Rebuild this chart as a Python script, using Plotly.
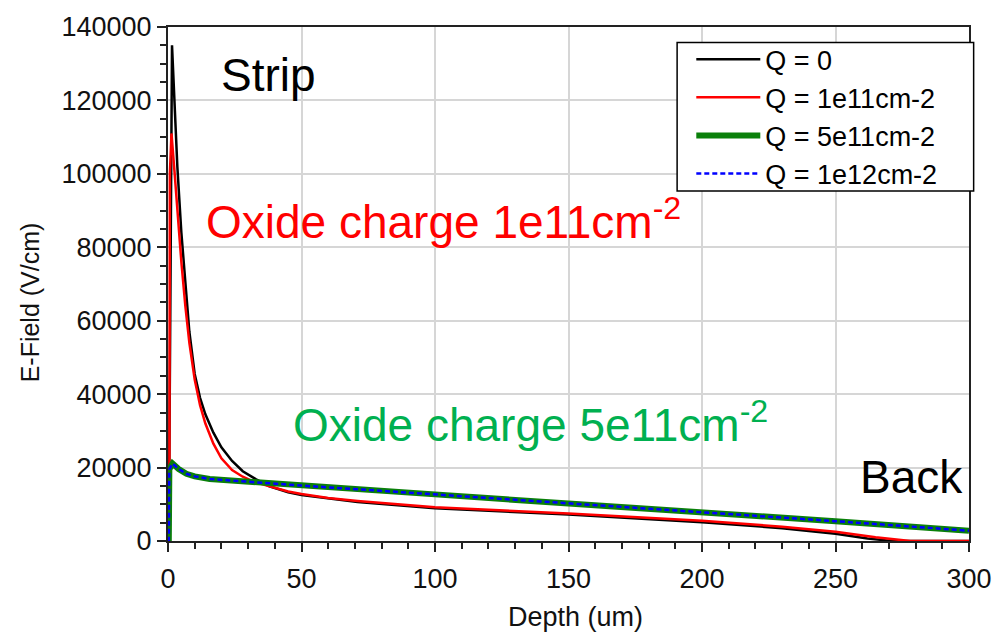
import plotly.graph_objects as go

# ---- data ----
depth_q0 = [0, 0.3, 1.5, 2.5, 3.5, 5, 6.5, 8, 10, 12, 14, 17, 20, 24, 28, 33, 38, 45, 50, 60, 71,
            100, 150, 200, 230, 250, 262, 271, 300]
efield_q0 = [0, 0, 135000, 117000, 102000, 84000, 70000, 57000, 45500, 39000, 34500, 29500, 25500,
             21800, 19000, 16800, 14900, 13300, 12500, 11500, 10600, 8900, 7200, 5100, 3500, 2000,
             700, 0, 0]

depth_q1e11 = [0, 0.5, 0.7, 1.3, 2.5, 3.5, 5, 6.5, 8, 10, 12, 14, 17, 20, 24, 28, 32, 38, 45, 50,
               60, 71, 100, 150, 200, 230, 250, 265, 278, 300]
efield_q1e11 = [0, 0, 100000, 111000, 100000, 90000, 76000, 64000, 54000, 44000, 37000, 32000,
                26500, 22500, 19300, 17500, 16200, 14900, 13500, 12800, 11700, 10900, 9200, 7500,
                5500, 3900, 2500, 1000, 0, 0]

depth_q5e11 = [0, 0.3, 0.5, 1.7, 4, 6.9, 10, 15.6, 25, 34, 50, 75, 100, 150, 200, 250, 300]
efield_q5e11 = [0, 0, 19500, 21100, 19600, 18300, 17600, 16900, 16400, 16000, 15100, 13900,
                12700, 10200, 7900, 5400, 2800]

depth_q1e12 = [0, 0.3, 0.5, 1.7, 4, 6.9, 10, 15.6, 25, 34, 50, 75, 100, 150, 200, 250, 300]
efield_q1e12 = [0, 0, 19500, 21100, 19600, 18300, 17600, 16900, 16400, 16000, 15100, 13900,
                12700, 10200, 7900, 5400, 2800]

series_names = ["Q = 0", "Q = 1e11cm-2", "Q = 5e11cm-2", "Q = 1e12cm-2"]
x_ticks = [0, 50, 100, 150, 200, 250, 300]
y_ticks = [0, 20000, 40000, 60000, 80000, 100000, 120000, 140000]

FONT = "Liberation Sans, Arial, sans-serif"

fig = go.Figure()
fig.add_trace(go.Scatter(x=depth_q0, y=efield_q0, mode="lines", name=series_names[0],
                         line=dict(color="#000000", width=2.5)))
fig.add_trace(go.Scatter(x=depth_q1e11, y=efield_q1e11, mode="lines", name=series_names[1],
                         line=dict(color="#ff0000", width=2.5)))
fig.add_trace(go.Scatter(x=depth_q5e11, y=efield_q5e11, mode="lines", name=series_names[2],
                         line=dict(color="#0a800a", width=6)))
fig.add_trace(go.Scatter(x=depth_q1e12, y=efield_q1e12, mode="lines", name=series_names[3],
                         line=dict(color="#0000ff", width=2.5, dash="5px,3px")))

axis_common = dict(
    showline=True, linecolor="#222222", linewidth=2, mirror=True,
    showgrid=True, gridcolor="#d6d6d6", gridwidth=2,
    ticks="outside", ticklen=9, tickwidth=1.5, tickcolor="#222222",
    tickfont=dict(family=FONT, size=27, color="#111111"),
    zeroline=False,
)

fig.update_layout(
    width=1004, height=634,
    margin=dict(l=168, r=28, t=23, b=93),
    paper_bgcolor="white", plot_bgcolor="white",
    font=dict(family=FONT, color="#000000"),
    xaxis=dict(range=[0, 300], tickvals=x_ticks, ticklabelstandoff=4,
               minor=dict(dtick=10, ticks="outside", ticklen=6, tickcolor="#222222", showgrid=False),
               **axis_common),
    yaxis=dict(range=[0, 140000], tickvals=y_ticks, tickformat="d",
               minor=dict(dtick=5000, ticks="outside", ticklen=6, tickcolor="#222222", showgrid=False),
               **axis_common),
    legend=dict(x=0.6533, y=0.984, xanchor="left", yanchor="top",
                bgcolor="rgba(0,0,0,0)", borderwidth=0,
                font=dict(family=FONT, size=27, color="#000000"),
                itemwidth=64, tracegroupgap=0),
    showlegend=True,
)

# legend frame (white box with black border, drawn above the curves)
fig.add_shape(type="rect", xref="paper", yref="paper",
              x0=0.6356, x1=1.0058, y0=0.681, y1=0.970,
              fillcolor="white", line=dict(color="#000000", width=1.5), layer="above")

annotations = [
    dict(text="Strip", x=37.8, y=126800, xref="x", yref="y", xanchor="center", yanchor="middle",
         showarrow=False, font=dict(family=FONT, size=46, color="#000000")),
    dict(text="Oxide charge 1e11cm<sup>-2</sup>",
         x=13.6, y=87800, xref="x", yref="y",
         xanchor="left", yanchor="middle", showarrow=False,
         font=dict(family=FONT, size=46, color="#ff0000")),
    dict(text="Oxide charge 5e11cm<sup>-2</sup>",
         x=45.9, y=32400, xref="x", yref="y",
         xanchor="left", yanchor="middle", showarrow=False,
         font=dict(family=FONT, size=46, color="#00b050")),
    dict(text="Back", x=258.6, y=17300, xref="x", yref="y", xanchor="left", yanchor="middle",
         showarrow=False, font=dict(family=FONT, size=46, color="#000000")),
    dict(text="E-Field (V/cm)", x=-0.172, y=0.4647, xref="paper", yref="paper", textangle=-90,
         xanchor="center", yanchor="middle", showarrow=False,
         font=dict(family=FONT, size=25, color="#111111")),
    dict(text="Depth (um)", x=0.509, y=-0.147, xref="paper", yref="paper",
         xanchor="center", yanchor="middle", showarrow=False,
         font=dict(family=FONT, size=27, color="#111111")),
]
fig.update_layout(annotations=annotations)

fig.write_html("out.html")
